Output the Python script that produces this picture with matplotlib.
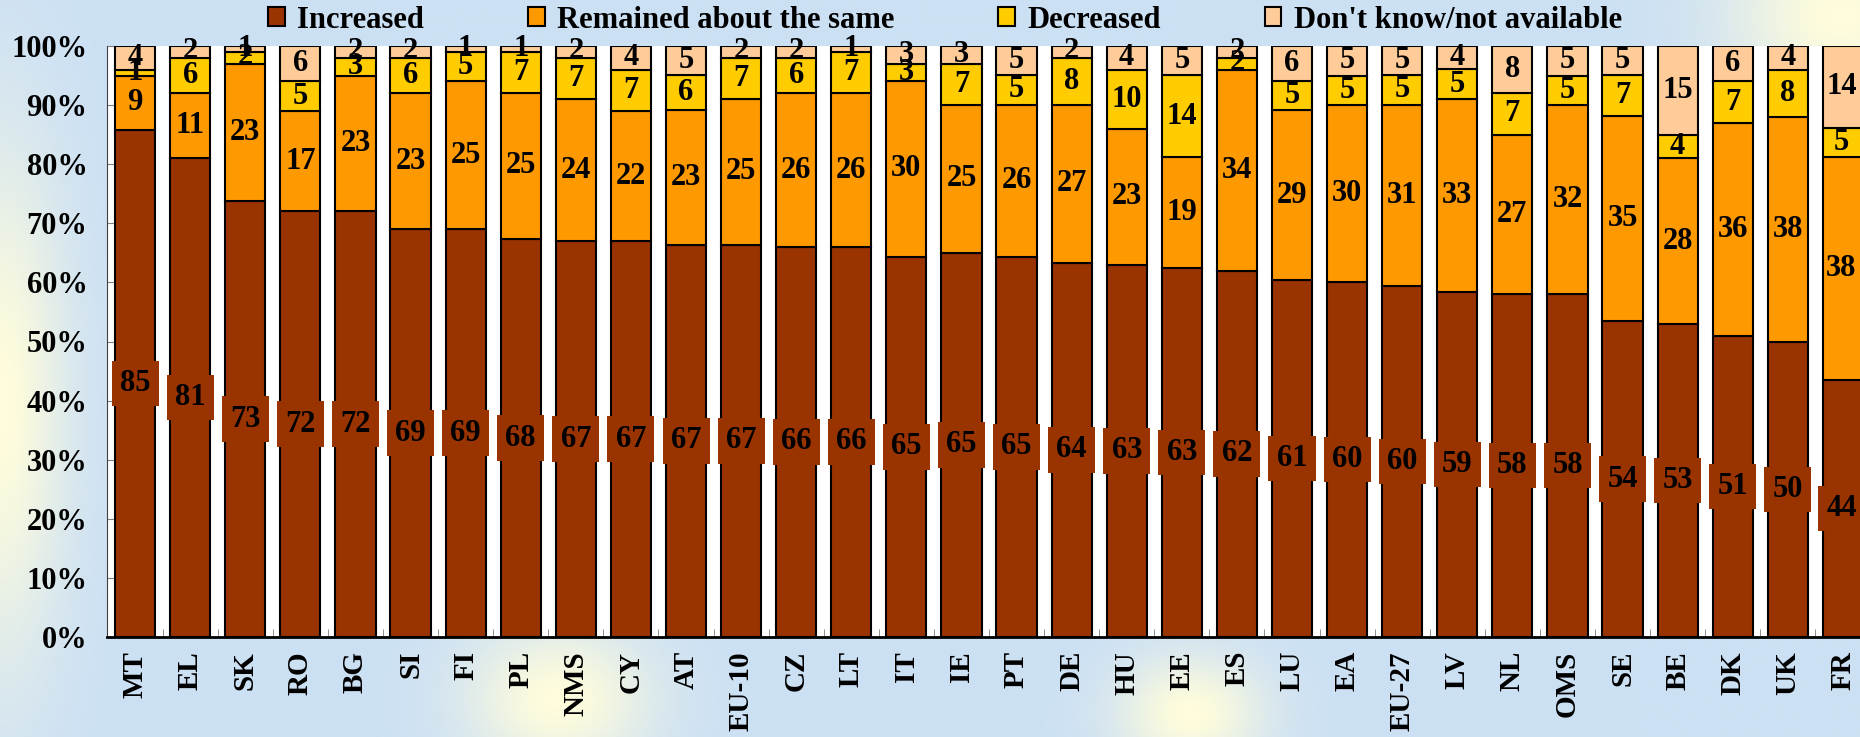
import numpy as np
import matplotlib.pyplot as plt
from matplotlib.patches import Patch

# data (rounded percentages)
countries = ['MT', 'EL', 'SK', 'RO', 'BG', 'SI', 'FI', 'PL', 'NMS', 'CY', 'AT', 'EU-10',
             'CZ', 'LT', 'IT', 'IE', 'PT', 'DE', 'HU', 'EE', 'ES', 'LU', 'EA', 'EU-27',
             'LV', 'NL', 'OMS', 'SE', 'BE', 'DK', 'UK', 'FR']
increased = [85, 81, 73, 72, 72, 69, 69, 68, 67, 67, 67, 67, 66, 66, 65, 65,
             65, 64, 63, 63, 62, 61, 60, 60, 59, 58, 58, 54, 53, 51, 50, 44]
remained = [9, 11, 23, 17, 23, 23, 25, 25, 24, 22, 23, 25, 26, 26, 30, 25,
            26, 27, 23, 19, 34, 29, 30, 31, 33, 27, 32, 35, 28, 36, 38, 38]
decreased = [1, 6, 2, 5, 3, 6, 5, 7, 7, 7, 6, 7, 6, 7, 3, 7,
             5, 8, 10, 14, 2, 5, 5, 5, 5, 7, 5, 7, 4, 7, 8, 5]
dont_know = [4, 2, 1, 6, 2, 2, 1, 1, 2, 4, 5, 2, 2, 1, 3, 3,
             5, 2, 4, 5, 2, 6, 5, 5, 4, 8, 5, 5, 15, 6, 4, 14]

series_names = ['Increased', 'Remained about the same', 'Decreased', "Don't know/not available"]
colors = ['#993300', '#FF9900', '#FFCC00', '#FFCC99']

plt.rcParams['font.family'] = ['Liberation Serif', 'DejaVu Serif']
plt.rcParams['font.weight'] = 'bold'

fig = plt.figure(figsize=(18.6, 7.37), dpi=100)

# soft blue background with faded yellow blobs
bg = fig.add_axes([0, 0, 1, 1], zorder=-10)
yy, xx = np.mgrid[0:1:300j, 0:1:750j]
base = np.array([0.80, 0.88, 0.96])
pale = np.array([1.0, 0.99, 0.86])
w = np.zeros_like(xx)
for cx, cy, sx, sy in [(0.0, 0.45, 0.035, 0.35), (0.99, 0.98, 0.06, 0.12),
                       (0.30, 0.05, 0.05, 0.10), (0.64, 0.03, 0.04, 0.08)]:
    w = np.maximum(w, np.exp(-((xx - cx) / sx) ** 2 - ((yy - cy) / sy) ** 2))
img = base * (1 - w[..., None]) + pale * w[..., None]
bg.imshow(img, aspect='auto', extent=[0, 1, 0, 1], origin='lower')
bg.axis('off')

ax = fig.add_axes([107 / 1860, 100 / 737, 1 - 107 / 1860, 591 / 737])
ax.set_facecolor('white')

data = np.array([increased, remained, decreased, dont_know], dtype=float)
shares = data / data.sum(axis=0) * 100
x = np.arange(len(countries))
bottom = np.zeros(len(countries))
handles = []
for k in range(4):
    bars = ax.bar(x, shares[k], 0.73, bottom=bottom, color=colors[k],
                  edgecolor='black', linewidth=1.5, zorder=2)
    kw = dict(label_type='center', fontsize=22, fontweight='bold', color='black', zorder=5)
    if k == 0:
        kw['bbox'] = dict(facecolor=colors[0], edgecolor='none', pad=6)
    ax.bar_label(bars, labels=[str(int(v)) for v in data[k]], **kw)
    bottom += shares[k]
    handles.append(Patch(facecolor=colors[k], edgecolor='black', linewidth=1.5))

ax.set_xlim(-0.51, 31.31)
ax.set_ylim(0, 100)
ax.set_yticks(np.arange(0, 101, 10))
ax.set_yticklabels([f'{v}%' for v in range(0, 101, 10)], fontsize=22, fontweight='bold')
ax.tick_params(axis='y', direction='in', length=6, color='#808080', pad=14)
ax.set_xticks(x)
ax.set_xticklabels(countries, rotation=90, fontsize=21, fontweight='bold', va='top')
ax.tick_params(axis='x', length=0, pad=10)
ax.set_xticks(x[:-1] + 0.5, minor=True)
ax.tick_params(axis='x', which='minor', direction='in', length=6, color='#808080')
for s in ['top', 'right']:
    ax.spines[s].set_visible(False)
ax.spines['left'].set_color('#404040')
ax.spines['bottom'].set_linewidth(2)

fig.legend(handles, series_names, loc='center', bbox_to_anchor=(0.508, 1 - 20 / 737),
           ncol=4, frameon=False, prop={'size': 22, 'weight': 'bold'},
           handlelength=0.55, handleheight=0.55, handletextpad=0.4, columnspacing=3.4)

fig.savefig('out.png', dpi=100)
